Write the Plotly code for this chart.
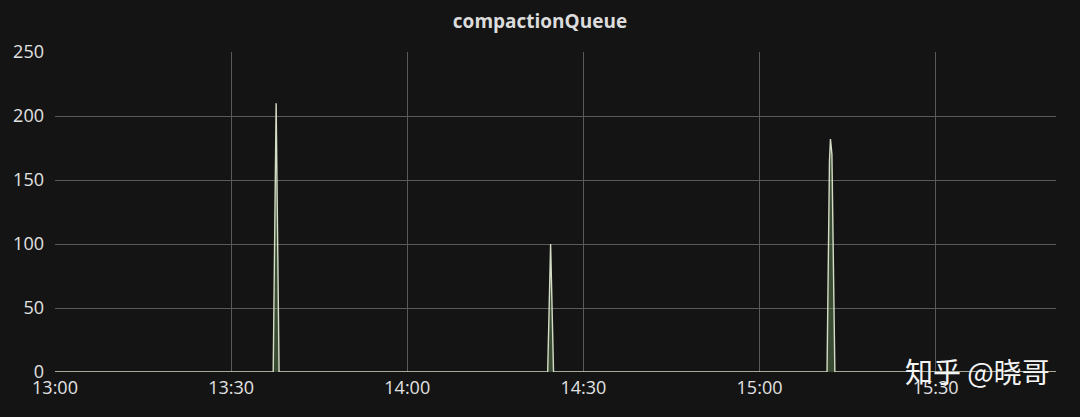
import plotly.graph_objects as go

# compactionQueue samples (time, queue length)
times = ["2024-01-01 13:00:00", "2024-01-01 13:37:10", "2024-01-01 13:37:40", "2024-01-01 13:38:10",
         "2024-01-01 14:23:55", "2024-01-01 14:24:25", "2024-01-01 14:24:55",
         "2024-01-01 15:11:30", "2024-01-01 15:11:55", "2024-01-01 15:12:05", "2024-01-01 15:12:20",
         "2024-01-01 15:12:50", "2024-01-01 15:50:30"]
queue = [0, 0, 210, 0,
         0, 100, 0,
         0, 165, 182, 170,
         0, 0]

tick_vals = ["2024-01-01 13:00", "2024-01-01 13:30", "2024-01-01 14:00",
             "2024-01-01 14:30", "2024-01-01 15:00", "2024-01-01 15:30"]
tick_text = ["13:00", "13:30", "14:00", "14:30", "15:00", "15:30"]
y_ticks = [0, 50, 100, 150, 200, 250]

fig = go.Figure()
fig.add_trace(go.Scatter(
    x=times, y=queue,
    mode='lines',
    line=dict(color='#d4dcc4', width=1.4),
    fill='tozeroy',
    fillcolor='rgba(126,178,109,0.35)',
    hoverinfo='x+y'))

fig.update_xaxes(
    type='date',
    range=["2024-01-01 13:00:00", "2024-01-01 15:50:30"],
    tickvals=tick_vals, ticktext=tick_text,
    showgrid=True, gridcolor='#5a5a5a', gridwidth=1,
    zeroline=False, showline=False,
    tickfont=dict(size=18, color='#e2e2e2'),
    ticks='', ticklabelstandoff=3)

fig.update_yaxes(
    range=[0, 250],
    tickvals=y_ticks,
    showgrid=True, gridcolor='#5a5a5a', gridwidth=1,
    zeroline=False, showline=False,
    tickfont=dict(size=18, color='#e2e2e2'),
    ticks='', ticklabelstandoff=10)

fig.add_annotation(
    text='知乎 @晓哥', xref='paper', yref='paper',
    x=1.0, y=0.0, xanchor='right', yanchor='middle',
    xshift=-4, yshift=1,
    showarrow=False,
    font=dict(family='Noto Sans CJK SC', size=28, color='#f4f4f4'))

fig.update_layout(
    title=dict(text='<b>compactionQueue</b>', x=0.5, xanchor='center', y=0.95, yanchor='middle',
               font=dict(size=19, color='#dcdcdc')),
    width=1080, height=417,
    margin=dict(l=55, r=24, t=52, b=45),
    paper_bgcolor='#141414',
    plot_bgcolor='#141414',
    font=dict(family='Open Sans, Noto Sans, sans-serif', color='#d8d8d8'),
    showlegend=False)

fig.write_html("out.html", config={'displayModeBar': False},
               post_script="document.body.style.margin='0';document.body.style.background='#141414';")
